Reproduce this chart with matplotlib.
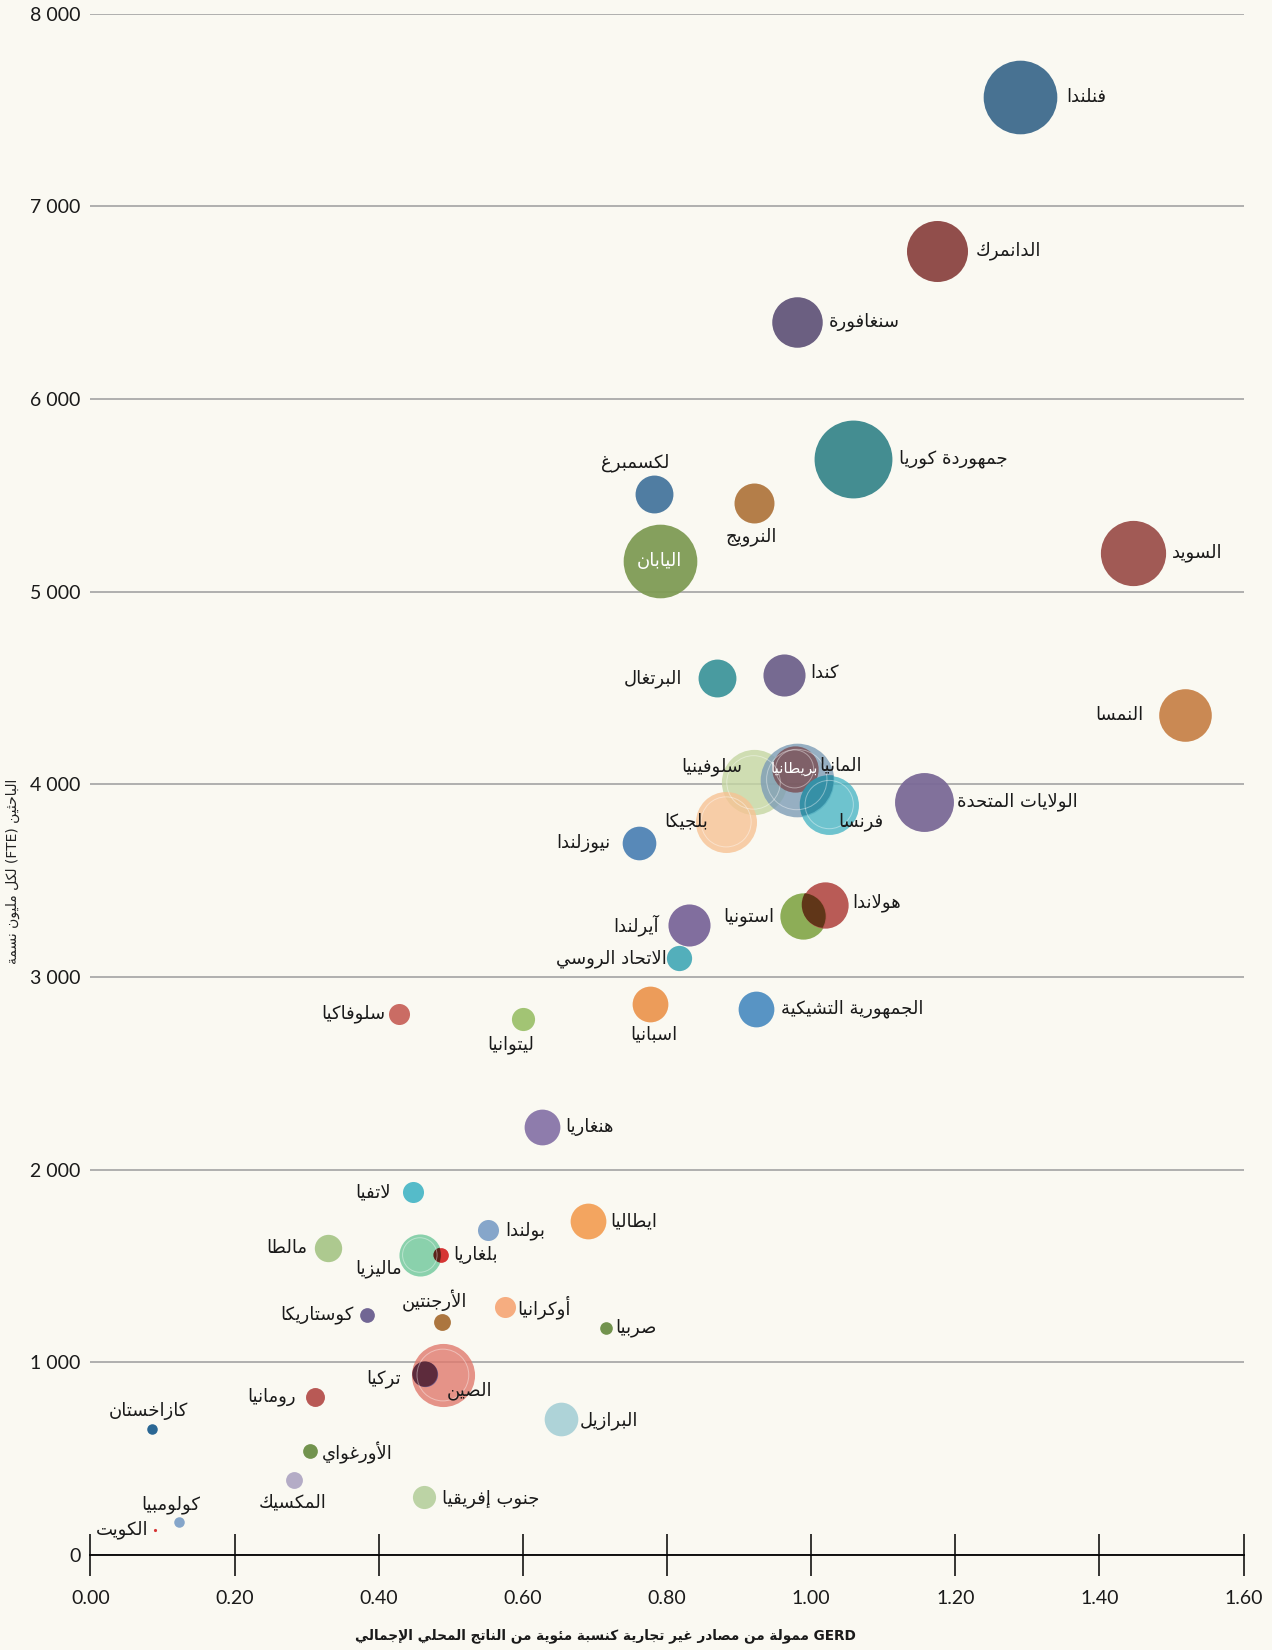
import matplotlib
matplotlib.use('Agg')
import numpy as np
import matplotlib.pyplot as plt
from matplotlib.patches import Circle
from matplotlib.transforms import ScaledTranslation
from matplotlib.ticker import FuncFormatter

plt.rcParams['font.family'] = ['DejaVu Sans']

# --- data -------------------------------------------------------------
countries = ['فنلندا', 'الدانمرك', 'سنغافورة', 'جمهوردة كوريا', 'لكسمبرغ',
             'النرويج', 'اليابان', 'السويد', 'البرتغال', 'كندا', 'النمسا',
             'سلوفينيا', 'بلجيكا', 'المانيا', 'بريطانيا', 'فرنسا',
             'الولايات المتحدة', 'نيوزلندا', 'استونيا', 'هولاندا', 'آيرلندا',
             'الاتحاد الروسي', 'الجمهورية التشيكية', 'اسبانيا', 'ليتوانيا',
             'سلوفاكيا', 'هنغاريا', 'لاتفيا', 'ايطاليا', 'بولندا', 'مالطا',
             'ماليزيا', 'بلغاريا', 'كوستاريكا', 'الأرجنتين', 'أوكرانيا', 'صربيا',
             'الصين', 'تركيا', 'رومانيا', 'البرازيل', 'كازاخستان', 'الأورغواي',
             'المكسيك', 'جنوب إفريقيا', 'كولومبيا', 'الكويت']
# GERD financed from non-business sources, % of GDP
gerd_share = [1.290, 1.174, 0.980, 1.058, 0.782, 0.920, 0.790, 1.447, 0.869,
              0.962, 1.518, 0.920, 0.882, 0.980, 0.977, 1.025, 1.156, 0.761,
              0.988, 1.019, 0.831, 0.816, 0.924, 0.777, 0.600, 0.428, 0.626,
              0.447, 0.691, 0.552, 0.330, 0.457, 0.486, 0.384, 0.488, 0.575,
              0.715, 0.489, 0.464, 0.311, 0.653, 0.086, 0.305, 0.282, 0.463,
              0.123, 0.089]
# researchers (FTE) per million inhabitants
researchers = [7570, 6770, 6400, 5690, 5505, 5460, 5160, 5200, 4550, 4570,
               4360, 4010, 3805, 4025, 4080, 3895, 3910, 3697, 3315, 3375,
               3270, 3100, 2835, 2860, 2780, 2807, 2223, 1884, 1731, 1688,
               1595, 1557, 1557, 1245, 1207, 1289, 1180, 934, 939, 819, 704,
               655, 541, 388, 300, 169, 131]
# relative bubble size (GERD volume)
bubble_size = [35, 29, 24, 37, 18, 19, 35, 31, 18, 20, 25, 31, 29, 35, 22, 28,
               28, 16, 22, 22, 20, 12, 17, 17, 11, 10, 17, 10, 17, 10, 13, 20,
               7, 7, 8, 10, 6, 30, 12, 9, 16, 5, 7, 8, 11, 5, 1.5]

colors = ['#3e6b8d', '#8c4542', '#63577b', '#3a878c', '#47769e', '#b07740',
          '#7f9b55', '#9c514c', '#3f969c', '#6f628c', '#c8834a', '#c5d6a3',
          '#f7c394', '#7d9db6', '#7a4d52', '#4bb6c5', '#7b6a97', '#4f83b5',
          '#87a94f', '#b6524e', '#7b679a', '#4aabb8', '#4f8fc2', '#ec9752',
          '#9dc16d', '#c8645c', '#8875a8', '#4cb8c7', '#f3a158', '#80a2c8',
          '#a9c78a', '#6ec89b', '#d42a2a', '#6a5e8f', '#a86f35', '#f6a97a',
          '#6b8e45', '#e07a6e', '#6a5a8c', '#b5504d', '#aad1d7', '#1f5f8f',
          '#6b8e45', '#b0a8c4', '#b9d1a1', '#7fa2c8', '#d42a2a']

# label placement: offset (px) from bubble centre, dy positive = down
label_pos = {
    'فنلندا': (44, 0, 'left'), 'الدانمرك': (37, 0, 'left'),
    'سنغافورة': (30, 0, 'left'), 'جمهوردة كوريا': (44, 0, 'left'),
    'لكسمبرغ': (-18, -30, 'center'), 'النرويج': (-2, 32, 'center'),
    'اليابان': (0, 0, 'center'), 'السويد': (37, 0, 'left'),
    'البرتغال': (-33, 0, 'right'), 'كندا': (25, -1, 'left'),
    'النمسا': (-39, 0, 'right'), 'سلوفينيا': (-11, -15, 'right'),
    'بلجيكا': (-17, 0, 'right'), 'المانيا': (21, -13, 'left'),
    'بريطانيا': (0, 0, 'center'), 'فرنسا': (9, 16, 'left'),
    'الولايات المتحدة': (32, 0, 'left'), 'نيوزلندا': (-27, 0, 'right'),
    'استونيا': (-27, 0, 'right'), 'هولاندا': (26, -2, 'left'),
    'آيرلندا': (-29, 0, 'right'), 'الاتحاد الروسي': (-11, 1, 'right'),
    'الجمهورية التشيكية': (23, 0, 'left'), 'اسبانيا': (3, 29, 'center'),
    'ليتوانيا': (-12, 24, 'center'), 'سلوفاكيا': (-13, 0, 'right'),
    'هنغاريا': (22, 0, 'left'), 'لاتفيا': (-21, 0, 'right'),
    'ايطاليا': (21, 0, 'left'), 'بولندا': (16, 1, 'left'),
    'مالطا': (-20, 0, 'right'), 'ماليزيا': (-17, 13, 'right'),
    'بلغاريا': (12, 0, 'left'), 'كوستاريكا': (-13, 0, 'right'),
    'الأرجنتين': (-7, -20, 'center'), 'أوكرانيا': (12, 1, 'left'),
    'صربيا': (9, 0, 'left'), 'الصين': (25, 15, 'center'),
    'تركيا': (-23, 4, 'right'), 'رومانيا': (-18, 0, 'right'),
    'البرازيل': (18, 1, 'left'), 'كازاخستان': (-4, -17, 'center'),
    'الأورغواي': (11, 2, 'left'), 'المكسيك': (-1, 21, 'center'),
    'جنوب إفريقيا': (17, 1, 'left'), 'كولومبيا': (-8, -17, 'center'),
    'الكويت': (-6, 0, 'right'),
}
inside_white = ['اليابان', 'بريطانيا']
ringed = ['سلوفينيا', 'بلجيكا', 'المانيا', 'بريطانيا', 'فرنسا', 'ماليزيا', 'الصين']
# (first, second, strength of the multiply darkening)
multiply_pairs = [('استونيا', 'هولاندا', 1.0), ('الصين', 'تركيا', 1.0),
                  ('ماليزيا', 'بلغاريا', 1.0), ('المانيا', 'فرنسا', 0.55)]

y_title = 'الباحثين (FTE) لكل مليون نسمة'
x_title = 'GERD ممولة من مصادر غير تجارية كنسبة مئوية من الناتج المحلي الإجمالي'


# --- minimal Arabic shaping (matplotlib has no RTL / joining support) --
DUAL = {'ئ': 0xFE89, 'ب': 0xFE8F, 'ت': 0xFE95, 'ث': 0xFE99, 'ج': 0xFE9D,
        'ح': 0xFEA1, 'خ': 0xFEA5, 'س': 0xFEB1, 'ش': 0xFEB5, 'ص': 0xFEB9,
        'ض': 0xFEBD, 'ط': 0xFEC1, 'ظ': 0xFEC5, 'ع': 0xFEC9, 'غ': 0xFECD,
        'ف': 0xFED1, 'ق': 0xFED5, 'ك': 0xFED9, 'ل': 0xFEDD, 'م': 0xFEE1,
        'ن': 0xFEE5, 'ه': 0xFEE9, 'ي': 0xFEF1}
RIGHT = {'آ': 0xFE81, 'أ': 0xFE83, 'ؤ': 0xFE85, 'إ': 0xFE87, 'ا': 0xFE8D,
         'ة': 0xFE93, 'د': 0xFEA9, 'ذ': 0xFEAB, 'ر': 0xFEAD, 'ز': 0xFEAF,
         'و': 0xFEED, 'ى': 0xFEEF}
LAMALEF = {'آ': 0xFEF5, 'أ': 0xFEF7, 'إ': 0xFEF9, 'ا': 0xFEFB}


def shape_word(w):
    toks = []
    i = 0
    while i < len(w):
        if w[i] == 'ل' and i + 1 < len(w) and w[i + 1] in LAMALEF:
            toks.append(('LA', w[i + 1]))
            i += 2
        else:
            toks.append(('C', w[i]))
            i += 1

    def joins_next(t):
        return t is not None and t[0] == 'C' and t[1] in DUAL

    def is_letter(t):
        return t is not None and (t[0] == 'LA' or t[1] in DUAL or t[1] in RIGHT or t[1] == 'ء')

    out = []
    for k, t in enumerate(toks):
        prev = toks[k - 1] if k > 0 else None
        nxt = toks[k + 1] if k + 1 < len(toks) else None
        cp = joins_next(prev)
        cn = is_letter(nxt) and joins_next(t)
        if t[0] == 'LA':
            out.append(chr(LAMALEF[t[1]] + (1 if cp else 0)))
        elif t[1] in DUAL:
            off = 3 if (cp and cn) else 1 if cp else 2 if cn else 0
            out.append(chr(DUAL[t[1]] + off))
        elif t[1] in RIGHT:
            out.append(chr(RIGHT[t[1]] + (1 if cp else 0)))
        elif t[1] == 'ء':
            out.append('\uFE80')
        else:
            out.append(t[1])
    return ''.join(out)


def ar(text):
    words = []
    for w in text.split(' '):
        if any('\u0600' <= c <= '\u06FF' for c in w):
            words.append(shape_word(w)[::-1])
        else:
            words.append(w)
    return ' '.join(words[::-1])


# --- figure -----------------------------------------------------------
bg = '#faf9f2'
fig = plt.figure(figsize=(12.72, 16.5), dpi=100, facecolor=bg)
ax = fig.add_axes([0.0711, 0.0576, 0.9066, 0.9341], facecolor=bg)

PT = 0.7575  # reference px -> points
idx = {n: i for i, n in enumerate(countries)}
diam = np.array(bubble_size) * 2 * PT
alphas = [0.8 if n in ringed else 0.95 for n in countries]

for i, n in enumerate(countries):
    ax.scatter(gerd_share[i], researchers[i], s=diam[i] ** 2, color=colors[i],
               alpha=alphas[i], linewidths=0, zorder=3 + i * 0.01)


def circle(i, scale=1.0, **kw):
    off = ScaledTranslation(gerd_share[i], researchers[i], ax.transData)
    return Circle((0, 0), diam[i] / 2 / 72 * scale,
                  transform=fig.dpi_scale_trans + off, **kw)


# multiply-style darker overlaps
for a, b, k in multiply_pairs:
    ia, ib = idx[a], idx[b]
    ca = np.array(matplotlib.colors.to_rgb(colors[ia]))
    cb = np.array(matplotlib.colors.to_rgb(colors[ib]))
    mixed = k * ca * cb + (1 - k) * cb
    clip = circle(ia)
    p = circle(ib, facecolor=tuple(mixed), edgecolor='none', zorder=4)
    ax.add_patch(p)
    p.set_clip_path(clip)

# faint inner rings
for n in ringed:
    ax.add_patch(circle(idx[n], 0.82, facecolor='none', edgecolor='white',
                        lw=0.7, alpha=0.4, zorder=4.5))

# labels
for i, n in enumerate(countries):
    dx, dy, ha = label_pos[n]
    white = n in inside_white
    ax.annotate(ar(n), (gerd_share[i], researchers[i]),
                xytext=(dx * PT, -dy * PT), textcoords='offset points',
                ha=ha, va='center', fontsize=11 if n == 'بريطانيا' else 13,
                color='white' if white else '#1a1a1a', zorder=6)

# axes styling
ax.set_xlim(0, 1.6)
ax.set_ylim(0, 8000)
ax.set_yticks(np.arange(0, 8001, 1000))
ax.set_xticks(np.arange(0, 1.61, 0.2))
ax.yaxis.set_major_formatter(FuncFormatter(lambda v, p: f'{int(v):,}'.replace(',', ' ')))
ax.xaxis.set_major_formatter(FuncFormatter(lambda v, p: f'{v:.2f}'))
ax.grid(axis='y', color='#a3a3a3', lw=1.2, zorder=1)
ax.set_axisbelow(True)
for s in ['left', 'right', 'top']:
    ax.spines[s].set_visible(False)
ax.spines['bottom'].set_color('black')
ax.spines['bottom'].set_linewidth(1.3)
ax.spines['bottom'].set_zorder(2)
ax.tick_params(axis='y', length=0, pad=7, labelsize=14, labelcolor='#1a1a1a')
ax.tick_params(axis='x', direction='inout', length=30, width=1.1,
               pad=10, labelsize=14, labelcolor='#1a1a1a')
for lab in ax.get_xticklabels() + ax.get_yticklabels():
    lab.set_family(['Lato', 'DejaVu Sans'])

fig.text(0.0102, 0.472, ar(y_title), rotation=90, ha='center', va='center',
         fontsize=10, color='#222222')
fig.text(0.476, 0.0085, ar(x_title), ha='center', va='center',
         fontsize=9.8, fontweight='bold', color='#1a1a1a')

fig.savefig('out.png', dpi=100, facecolor=bg)
